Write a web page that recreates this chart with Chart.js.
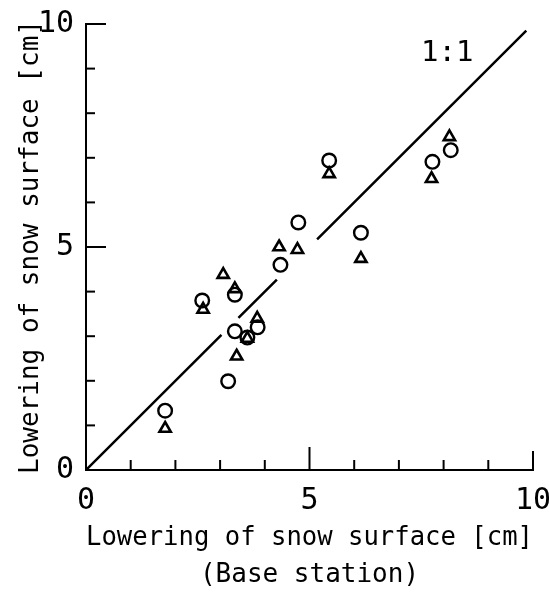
<!DOCTYPE html>
<html>
<head>
<meta charset="utf-8">
<script src="https://cdn.jsdelivr.net/npm/chart.js@4.4.1/dist/chart.umd.min.js"></script>
<style>
  html, body { margin: 0; padding: 0; background: #fff; }
  #wrap { width: 549px; height: 593px; position: relative; }
</style>
</head>
<body>
<div id="wrap"><canvas id="chart1"></canvas></div>
<script>
// datos
const circleX = [1.77, 2.60, 3.18, 3.33, 3.33, 3.61, 3.84, 4.35, 4.75, 5.44, 6.15, 7.75, 8.16];
const circleY = [1.33, 3.80, 1.99, 3.93, 3.11, 2.97, 3.20, 4.60, 5.55, 6.94, 5.32, 6.91, 7.17];
const triX = [1.77, 2.62, 3.07, 3.33, 3.37, 3.61, 3.83, 4.32, 4.73, 5.44, 6.15, 7.73, 8.13];
const triY = [0.93, 3.60, 4.38, 4.06, 2.55, 2.95, 3.40, 5.00, 4.94, 6.64, 4.74, 6.53, 7.47];
// recta 1:1 (con cortes donde pasan los simbolos)
const lineX = [0, 3.03, 3.2, 3.41, 4.27, 4.7, 5.17, 9.85];
const lineY = [0, 3.03, null, 3.41, 4.27, null, 5.17, 9.85];
const tickValues = [0, 1, 2, 3, 4, 5, 6, 7, 8, 9, 10];
const tickLabels = { 0: '0', 5: '5', 10: '10' };
const lineLabel = '1:1';
const xTitle = ['Lowering of snow surface [cm]', '(Base station)'];
const yTitle = 'Lowering of snow surface [cm]';

const FONT = "'DejaVu Sans Mono', monospace";

const toPoints = (xs, ys) => xs.map((v, i) => ({ x: v, y: ys[i] }));

const innerTicks = {
  id: 'innerTicks',
  afterDatasetsDraw(chart) {
    const { ctx, scales: { x, y } } = chart;
    const x0 = x.getPixelForValue(0);
    const y0 = y.getPixelForValue(0);
    ctx.save();
    ctx.strokeStyle = '#000';
    ctx.lineWidth = 2;
    tickValues.forEach(v => {
      if (v === 0) return;
      const lx = v === 5 ? 23 : (v === 10 ? 19 : 10);
      const px = x.getPixelForValue(v);
      ctx.beginPath();
      ctx.moveTo(px, y0);
      ctx.lineTo(px, y0 - lx);
      ctx.stroke();
      const ly = v === 5 ? 20 : (v === 10 ? 20 : 9);
      const py = y.getPixelForValue(v);
      ctx.beginPath();
      ctx.moveTo(x0, py);
      ctx.lineTo(x0 + ly, py);
      ctx.stroke();
    });
    // etiqueta de la recta
    ctx.fillStyle = '#000';
    ctx.font = '29px ' + FONT;
    ctx.textAlign = 'center';
    ctx.textBaseline = 'middle';
    ctx.fillText(lineLabel, x.getPixelForValue(8.08), y.getPixelForValue(9.35));
    ctx.restore();
  }
};

const ctx = document.getElementById('chart1').getContext('2d');
new Chart(ctx, {
  type: 'scatter',
  data: {
    datasets: [
      {
        label: '1:1',
        type: 'line',
        data: toPoints(lineX, lineY),
        borderColor: '#000',
        borderWidth: 2.5,
        pointRadius: 0,
        spanGaps: false,
        fill: false,
        tension: 0
      },
      {
        label: 'circle',
        data: toPoints(circleX, circleY),
        pointStyle: 'circle',
        pointRadius: 6.8,
        borderColor: '#000',
        borderWidth: 2.4,
        backgroundColor: 'rgba(0,0,0,0)'
      },
      {
        label: 'triangle',
        data: toPoints(triX, triY),
        pointStyle: 'triangle',
        pointRadius: 6.5,
        borderColor: '#000',
        borderWidth: 2.6,
        backgroundColor: 'rgba(0,0,0,0)'
      }
    ]
  },
  options: {
    responsive: true,
    maintainAspectRatio: false,
    animation: false,
    layout: { padding: { left: 0, right: 16, top: 24, bottom: 0 } },
    plugins: { legend: { display: false }, tooltip: { enabled: false } },
    scales: {
      x: {
        type: 'linear',
        min: 0,
        max: 10,
        afterFit: (s) => { s.height = 123; s.paddingLeft = 0; s.paddingRight = 0; },
        afterBuildTicks: (s) => { s.ticks = tickValues.map(v => ({ value: v })); },
        grid: { display: false, drawTicks: false },
        border: { display: true, color: '#000', width: 2 },
        ticks: {
          color: '#000',
          font: { family: FONT, size: 30 },
          padding: 13,
          maxRotation: 0,
          autoSkip: false,
          callback: (v) => tickLabels[v] !== undefined ? tickLabels[v] : ''
        },
        title: {
          display: true,
          text: xTitle,
          color: '#000',
          font: { family: FONT, size: 26, lineHeight: 1.4 },
          padding: { top: 0, bottom: 0 }
        }
      },
      y: {
        type: 'linear',
        min: 0,
        max: 10,
        afterFit: (s) => { s.width = 86; s.paddingTop = 0; s.paddingBottom = 0; },
        afterBuildTicks: (s) => { s.ticks = tickValues.map(v => ({ value: v })); },
        grid: { display: false, drawTicks: false },
        border: { display: true, color: '#000', width: 2 },
        ticks: {
          color: '#000',
          font: { family: FONT, size: 30 },
          padding: 12,
          autoSkip: false,
          callback: (v) => tickLabels[v] !== undefined ? tickLabels[v] : ''
        },
        title: {
          display: true,
          text: yTitle,
          color: '#000',
          font: { family: FONT, size: 26 },
          padding: { top: 16, bottom: 0 }
        }
      }
    }
  },
  plugins: [innerTicks]
});
</script>
</body>
</html>
